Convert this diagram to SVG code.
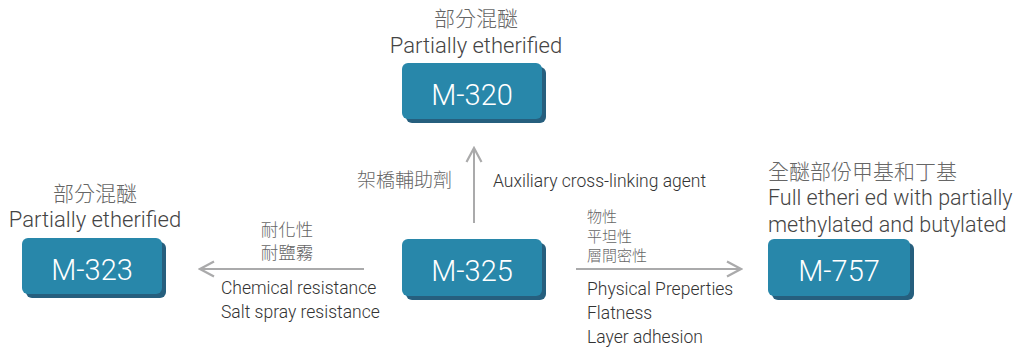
<svg xmlns="http://www.w3.org/2000/svg" width="1019" height="350" viewBox="0 0 1019 350">
<style>
.sh{fill:#265f7e}
.bx{fill:#2887aa}
.bt{font-family:Roboto,"Liberation Sans",sans-serif;font-weight:300;font-size:29px;fill:#ffffff;text-anchor:middle}
.t{font-family:Roboto,"Liberation Sans",sans-serif;font-weight:300;fill:#444444}
.cj{font-family:"Noto Sans CJK TC",sans-serif;font-weight:300;fill:#666666}
.l{font-family:Roboto,"Liberation Sans",sans-serif;font-weight:300;font-size:17.5px;fill:#333333}
.ln{stroke:#aaaaab;stroke-width:2;fill:none}
</style>
<defs>
<marker id="ah" viewBox="0 0 18 18" refX="16" refY="9" markerWidth="18" markerHeight="18" markerUnits="userSpaceOnUse" orient="auto">
<path d="M2,1.5 L16,9 L2,16.5" fill="none" stroke="#aaaaab" stroke-width="2.2" stroke-linejoin="miter"/>
</marker>
</defs>
<g id="connectors">
<line class="ln" x1="474" y1="223" x2="474" y2="148" marker-end="url(#ah)"/>
<line class="ln" x1="364" y1="269" x2="200" y2="269" marker-end="url(#ah)"/>
<line class="ln" x1="576" y1="269" x2="741" y2="269" marker-end="url(#ah)"/>
<text class="cj" x="452" y="187" font-size="19" text-anchor="end">架橋輔助劑</text>
<text class="l" x="493" y="187">Auxiliary cross-linking agent</text>
<text class="cj" x="287" y="236" font-size="17.5" text-anchor="middle">耐化性</text>
<text class="cj" x="287" y="259" font-size="17.5" text-anchor="middle">耐鹽霧</text>
<text class="l" x="221" y="294">Chemical resistance</text>
<text class="l" x="221" y="318">Salt spray resistance</text>
<text class="cj" x="587" y="222" font-size="15">物性</text>
<text class="cj" x="587" y="242" font-size="15">平坦性</text>
<text class="cj" x="587" y="261" font-size="15">層間密性</text>
<text class="l" x="587" y="295">Physical Preperties</text>
<text class="l" x="587" y="319">Flatness</text>
<text class="l" x="587" y="343">Layer adhesion</text>
</g>
<g id="m320">
<text class="cj" x="476" y="26" font-size="21" text-anchor="middle">部分混醚</text>
<text class="t" x="476" y="53" font-size="22" text-anchor="middle">Partially etherified</text>
<rect class="sh" x="406" y="67" width="140" height="56" rx="6"/>
<rect class="bx" x="402" y="63" width="140" height="56" rx="6"/>
<text class="bt" x="472" y="105">M-320</text>
</g>
<g id="m323">
<text class="cj" x="95" y="201" font-size="21" text-anchor="middle">部分混醚</text>
<text class="t" x="95" y="227" font-size="22" text-anchor="middle">Partially etherified</text>
<rect class="sh" x="26" y="242" width="140" height="56" rx="6"/>
<rect class="bx" x="22" y="238" width="140" height="56" rx="6"/>
<text class="bt" x="92" y="280">M-323</text>
</g>
<g id="m325">
<rect class="sh" x="406" y="243" width="140" height="57" rx="6"/>
<rect class="bx" x="402" y="239" width="140" height="57" rx="6"/>
<text class="bt" x="472" y="281">M-325</text>
</g>
<g id="m757">
<text class="cj" x="768" y="179" font-size="21">全醚部份甲基和丁基</text>
<text class="t" x="768" y="205" font-size="21.5">Full etheri ed with partially</text>
<text class="t" x="768" y="232" font-size="21.5">methylated and butylated</text>
<rect class="sh" x="772" y="243" width="142" height="57" rx="6"/>
<rect class="bx" x="768" y="239" width="142" height="57" rx="6"/>
<text class="bt" x="839" y="281">M-757</text>
</g>
</svg>
